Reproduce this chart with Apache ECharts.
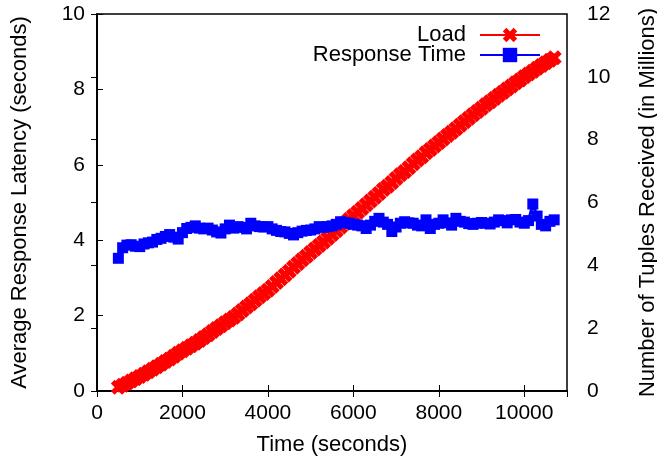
<!DOCTYPE html>
<html><head><meta charset="utf-8">
<script src="https://cdn.jsdelivr.net/npm/echarts/dist/echarts.min.js"></script>
<style>html,body{margin:0;padding:0;background:#fff}#c{width:657px;height:460px}</style>
</head><body><div id="c"></div><script>
const xTicks = [0, 2000, 4000, 6000, 8000, 10000];
const leftTicks = [0, 2, 4, 6, 8, 10];
const rightTicks = [0, 2, 4, 6, 8, 10, 12];

const loadTimes = [500,600,700,800,900,1000,1100,1200,1300,1400,1500,1600,1700,1800,1900,2000,2100,2200,2300,2400,2500,2600,2700,2800,2900,3000,3100,3200,3300,3400,3500,3600,3700,3800,3900,4000,4100,4200,4300,4400,4500,4600,4700,4800,4900,5000,5100,5200,5300,5400,5500,5600,5700,5800,5900,6000,6100,6200,6300,6400,6500,6600,6700,6800,6900,7000,7100,7200,7300,7400,7500,7600,7700,7800,7900,8000,8100,8200,8300,8400,8500,8600,8700,8800,8900,9000,9100,9200,9300,9400,9500,9600,9700,9800,9900,10000,10100,10200,10300,10400,10500,10600,10700];
const loadValues = [0.12,0.18,0.25,0.32,0.39,0.46,0.53,0.61,0.69,0.77,0.85,0.94,1.02,1.11,1.20,1.28,1.36,1.44,1.52,1.61,1.70,1.79,1.89,1.99,2.08,2.17,2.26,2.35,2.45,2.56,2.67,2.78,2.89,3.00,3.10,3.21,3.33,3.45,3.57,3.69,3.81,3.94,4.06,4.18,4.29,4.41,4.52,4.63,4.74,4.86,4.98,5.10,5.22,5.34,5.46,5.58,5.69,5.81,5.93,6.05,6.17,6.29,6.41,6.52,6.64,6.76,6.88,6.99,7.11,7.23,7.35,7.46,7.58,7.69,7.80,7.91,8.02,8.13,8.24,8.35,8.46,8.57,8.68,8.79,8.90,9.00,9.11,9.21,9.31,9.41,9.51,9.61,9.71,9.81,9.90,10.00,10.09,10.18,10.27,10.36,10.45,10.53,10.61];

const respTimes = [500,600,700,800,900,1000,1100,1200,1300,1400,1500,1600,1700,1800,1900,2000,2100,2200,2300,2400,2500,2600,2700,2800,2900,3000,3100,3200,3300,3400,3500,3600,3700,3800,3900,4000,4100,4200,4300,4400,4500,4600,4700,4800,4900,5000,5100,5200,5300,5400,5500,5600,5700,5800,5900,6000,6100,6200,6300,6400,6500,6600,6700,6800,6900,7000,7100,7200,7300,7400,7500,7600,7700,7800,7900,8000,8100,8200,8300,8400,8500,8600,8700,8800,8900,9000,9100,9200,9300,9400,9500,9600,9700,9800,9900,10000,10100,10200,10300,10400,10500,10600,10700];
const respValues = [3.52,3.80,3.87,3.88,3.84,3.83,3.90,3.93,3.95,4.02,4.05,4.10,4.15,4.08,4.03,4.20,4.31,4.34,4.38,4.32,4.30,4.32,4.27,4.22,4.19,4.30,4.40,4.32,4.36,4.34,4.30,4.45,4.38,4.36,4.35,4.36,4.30,4.26,4.23,4.22,4.18,4.14,4.20,4.24,4.26,4.27,4.30,4.36,4.34,4.36,4.38,4.42,4.49,4.46,4.45,4.42,4.40,4.38,4.31,4.40,4.50,4.58,4.48,4.42,4.23,4.35,4.45,4.49,4.46,4.45,4.40,4.38,4.54,4.31,4.42,4.45,4.54,4.46,4.40,4.58,4.50,4.48,4.44,4.42,4.45,4.47,4.45,4.43,4.48,4.54,4.52,4.46,4.54,4.55,4.48,4.45,4.52,4.96,4.64,4.42,4.38,4.50,4.54];

const FONT = 'Liberation Sans, Arial, sans-serif';
const crossPath = 'path://M0,2.5 L2.5,0 L5,2.5 L7.5,0 L10,2.5 L7.5,5 L10,7.5 L7.5,10 L5,7.5 L2.5,10 L0,7.5 L2.5,5 Z';

const chart = echarts.init(document.getElementById('c'), null, {renderer: 'canvas'});
const axisCommon = {
  axisLine: {show: true, lineStyle: {color: '#000', width: 1.5}},
  axisTick: {show: true, inside: true, length: 6, lineStyle: {color: '#000', width: 1}},
  splitLine: {show: false},
  axisLabel: {color: '#000', fontSize: 21, fontFamily: FONT},
  nameTextStyle: {color: '#000', fontSize: 22, fontFamily: FONT}
};
chart.setOption({
  animation: false,
  backgroundColor: '#fff',
  textStyle: {fontFamily: FONT},
  grid: {left: 97, right: 90, top: 14, bottom: 69, show: true, borderColor: '#000', borderWidth: 1.5,
         backgroundColor: 'transparent', containLabel: false, outerBoundsMode: 'none'},
  legend: {
    data: ['Load', 'Response Time'],
    orient: 'vertical', align: 'right',
    right: 116, top: 24, padding: 0,
    itemWidth: 60, itemHeight: 18, itemGap: -2,
    textStyle: {color: '#000', fontSize: 22, fontFamily: FONT, lineHeight: 18, padding: [0, 9, 0, 0]}
  },
  xAxis: [
    Object.assign({}, axisCommon, {
      type: 'value', min: 0, max: 11000, interval: 2000, position: 'bottom',
      name: 'Time (seconds)', nameLocation: 'middle', nameGap: 43,
      axisLabel: Object.assign({}, axisCommon.axisLabel, {margin: 12, showMaxLabel: false,
        formatter: v => xTicks.indexOf(v) >= 0 ? String(v) : ''})
    }),
    Object.assign({}, axisCommon, {
      type: 'value', min: 0, max: 11000, interval: 2000, position: 'top',
      axisLabel: {show: false}
    })
  ],
  yAxis: [
    Object.assign({}, axisCommon, {
      type: 'value', min: 0, max: 10, interval: 2, position: 'left',
      name: 'Average Response Latency (seconds)', nameLocation: 'middle', nameGap: 66,
      axisLabel: Object.assign({}, axisCommon.axisLabel, {margin: 12,
        formatter: v => leftTicks.indexOf(v) >= 0 ? String(v) : ''})
    }),
    Object.assign({}, axisCommon, {
      type: 'value', min: 0, max: 12, interval: 2, position: 'right',
      name: 'Number of Tuples Received (in Millions)', nameLocation: 'middle', nameGap: 70,
      axisLabel: Object.assign({}, axisCommon.axisLabel, {margin: 20,
        formatter: v => rightTicks.indexOf(v) >= 0 ? String(v) : ''})
    })
  ],
  series: [
    {
      name: 'Load', type: 'line', xAxisIndex: 0, yAxisIndex: 1,
      data: loadTimes.map((t, i) => [t, loadValues[i]]),
      symbol: crossPath, symbolSize: 15, showSymbol: true, showAllSymbol: true,
      lineStyle: {color: '#ff0000', width: 6},
      itemStyle: {color: '#ff0000', borderWidth: 0},
      z: 2
    },
    {
      name: 'Response Time', type: 'line', xAxisIndex: 0, yAxisIndex: 0,
      data: respTimes.map((t, i) => [t, respValues[i]]),
      symbol: 'rect', symbolSize: 11, showSymbol: true, showAllSymbol: true,
      lineStyle: {color: '#0000ff', width: 3},
      itemStyle: {color: '#0000ff', borderWidth: 0},
      z: 3
    }
  ]
});
</script></body></html>
